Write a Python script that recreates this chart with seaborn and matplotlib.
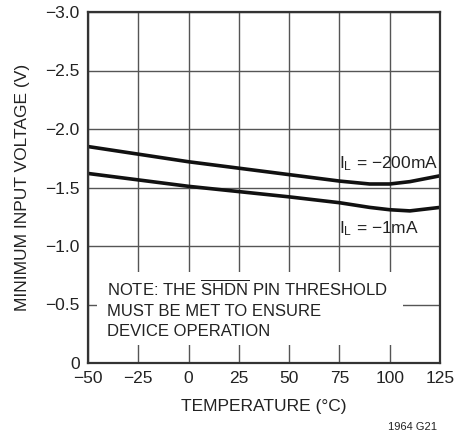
import pandas as pd
import numpy as np
import matplotlib
matplotlib.use('Agg')
import matplotlib.pyplot as plt
from matplotlib.patches import Rectangle
import seaborn as sns

# curve readings (temperature in C, minimum input voltage in V)
temp = [-50, -25, 0, 25, 50, 75, 90, 100, 110, 125]
v_200ma = [-1.85, -1.785, -1.72, -1.665, -1.61, -1.555, -1.53, -1.53, -1.55, -1.60]
v_1ma = [-1.62, -1.565, -1.51, -1.465, -1.42, -1.37, -1.33, -1.31, -1.30, -1.33]

x_ticks = [-50, -25, 0, 25, 50, 75, 100, 125]
y_ticks = [0, -0.5, -1.0, -1.5, -2.0, -2.5, -3.0]
y_labels = ['0', '\u22120.5', '\u22121.0', '\u22121.5', '\u22122.0', '\u22122.5', '\u22123.0']
x_labels = ['\u221250', '\u221225', '0', '25', '50', '75', '100', '125']

df = pd.concat([
    pd.DataFrame({'temp': temp, 'v': v_200ma, 'load': '-200mA'}),
    pd.DataFrame({'temp': temp, 'v': v_1ma, 'load': '-1mA'}),
])

sns.set_theme(style='white')
FONT = ['Liberation Sans', 'DejaVu Sans']
plt.rcParams['font.family'] = FONT
plt.rcParams['mathtext.fontset'] = 'custom'
plt.rcParams['mathtext.rm'] = 'Liberation Sans'
plt.rcParams['mathtext.it'] = 'Liberation Sans'
plt.rcParams['mathtext.default'] = 'regular'

TXT = '#222222'
fig = plt.figure(figsize=(4.72, 4.34), dpi=100)
ax = fig.add_axes([88/472, 1-363/434, 352/472, 351/434])

sns.lineplot(data=df, x='temp', y='v', hue='load', palette=['#111111', '#111111'],
             linewidth=2.6, legend=False, ax=ax)

ax.set_xlim(-50, 125)
ax.set_ylim(0, -3.0)
ax.set_xticks(x_ticks)
ax.set_xticklabels(x_labels)
ax.set_yticks(y_ticks)
ax.set_yticklabels(y_labels)
ax.tick_params(length=0, labelsize=12.5, colors=TXT, pad=6)
ax.grid(True, color='#555555', linewidth=1.0)
ax.set_axisbelow(True)
for s in ax.spines.values():
    s.set_color('#333333')
    s.set_linewidth(1.6)

ax.set_xlabel('TEMPERATURE (\u00b0C)', fontsize=12.5, color=TXT, labelpad=9)
ax.set_ylabel('MINIMUM INPUT VOLTAGE (V)', fontsize=12.5, color=TXT, labelpad=11)

ax.text(75, -1.66, 'I$_L$ = \u2212200mA', fontsize=12.5, color=TXT)
ax.text(75, -1.11, 'I$_L$ = \u22121mA', fontsize=12.5, color=TXT)

# white box behind the note (cuts the grid lines)
ax.add_patch(Rectangle((0.0256, 0.0513), 0.869, 0.208, transform=ax.transAxes,
                       facecolor='white', edgecolor='none', zorder=1))
ax.text(-40.5, -0.72,
        'NOTE: THE $\\overline{SHDN}$ PIN THRESHOLD\nMUST BE MET TO ENSURE\nDEVICE OPERATION',
        fontsize=12, color=TXT, linespacing=1.42, va='top', ha='left', zorder=3)

fig.text(437/472, 1-427/434, '1964 G21', fontsize=8, color=TXT, ha='right', va='center')

fig.savefig('out.png', dpi=100)
